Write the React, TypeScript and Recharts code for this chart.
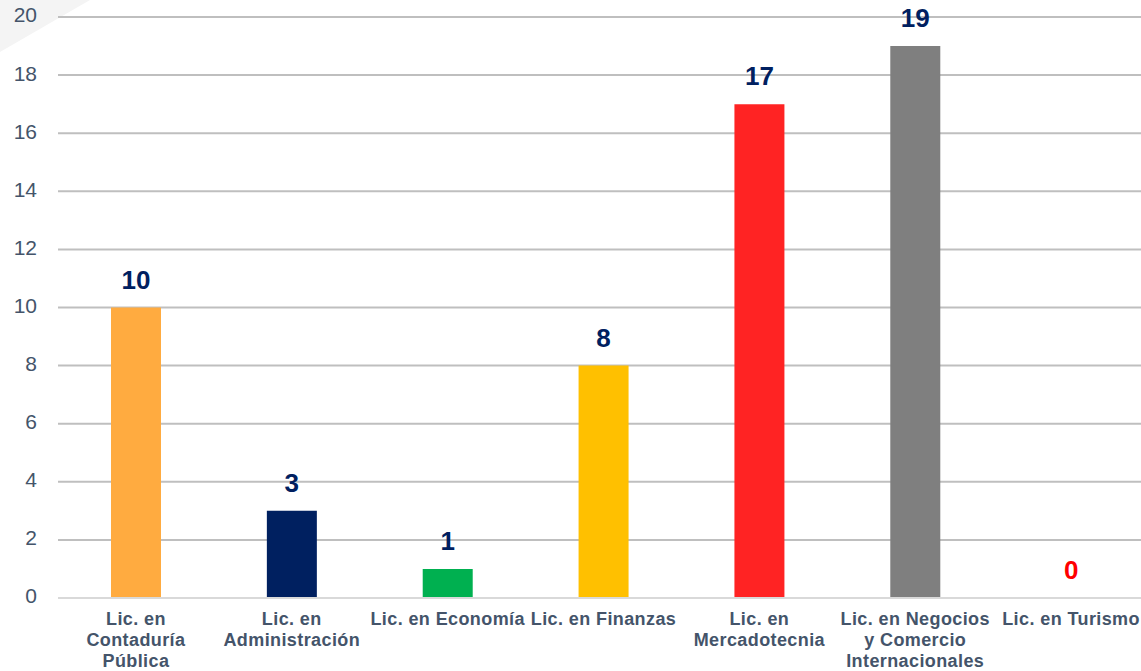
import { BarChart, Bar, XAxis, YAxis, CartesianGrid, Cell, LabelList } from "recharts"

const categories = [
  ["Lic. en", "Contaduría", "Pública"],
  ["Lic. en", "Administración"],
  ["Lic. en Economía"],
  ["Lic. en Finanzas"],
  ["Lic. en", "Mercadotecnia"],
  ["Lic. en Negocios", "y Comercio", "Internacionales"],
  ["Lic. en Turismo"],
]
const values = [10, 3, 1, 8, 17, 19, 0]
const barColors = ["#ffab40", "#002060", "#00b050", "#ffc000", "#ff2323", "#7f7f7f", "#ff0000"]
const labelColors = ["#002060", "#002060", "#002060", "#002060", "#002060", "#002060", "#ff0000"]
const yTicks = [0, 2, 4, 6, 8, 10, 12, 14, 16, 18, 20]

const data = categories.map((lines, i) => ({
  name: lines.join(" "),
  lines,
  value: values[i],
}))

const FONT = "'Liberation Sans', Arial, sans-serif"

const CategoryTick = ({ x, y, payload }: any) => {
  const item = data.find((d) => d.name === payload.value)
  const lines = item ? item.lines : [payload.value]
  return (
    <text
      x={x}
      y={y}
      textAnchor="middle"
      fill="#44546a"
      fontFamily={FONT}
      fontWeight="bold"
      fontSize={18}
      letterSpacing={0.4}
    >
      {lines.map((line: string, i: number) => (
        <tspan key={i} x={x} dy={i === 0 ? 19 : 21}>
          {line}
        </tspan>
      ))}
    </text>
  )
}

// value above each bar, the zero one in red
const ValueLabel = ({ x, y, width, value, index }: any) => (
  <text
    x={x + width / 2}
    y={y - 19}
    textAnchor="middle"
    fill={labelColors[index]}
    fontFamily={FONT}
    fontWeight="bold"
    fontSize={26}
  >
    {value}
  </text>
)

export default function App() {
  return (
    <div
      style={{
        position: "fixed",
        left: 0,
        top: 0,
        width: 1141,
        height: 671,
        background: "#fff",
        overflow: "hidden",
      }}
    >
      <div
        style={{
          position: "absolute",
          left: 0,
          top: 0,
          width: 90,
          height: 52,
          background: "#f4f4f4",
          clipPath: "polygon(0 0, 100% 0, 0 100%)",
        }}
      />
      <div style={{ position: "absolute", left: 0, top: 0 }}>
        <BarChart width={1149} height={671} data={data} margin={{ top: 17, right: 0, left: 0, bottom: 0 }}>
          <CartesianGrid vertical={false} stroke="#bfbfbf" strokeWidth={2} />
          <XAxis
            dataKey="name"
            interval={0}
            height={73}
            tickLine={false}
            axisLine={{ stroke: "#d9d9d9", strokeWidth: 2 }}
            tick={<CategoryTick />}
          />
          <YAxis
            domain={[0, 20]}
            ticks={yTicks}
            width={58}
            axisLine={false}
            tickLine={false}
            tickSize={0}
            tickMargin={21}
            tick={{ fill: "#44546a", fontSize: 21, fontFamily: FONT, dy: -2 }}
          />
          <Bar
            dataKey="value"
            barSize={50}
            minPointSize={(v: number) => (v === 0 ? 0.01 : 0)}
            isAnimationActive={false}
          >
            {data.map((_, i) => (
              <Cell key={`cell-${i}`} fill={barColors[i]} />
            ))}
            <LabelList dataKey="value" content={<ValueLabel />} />
          </Bar>
        </BarChart>
      </div>
    </div>
  )
}
